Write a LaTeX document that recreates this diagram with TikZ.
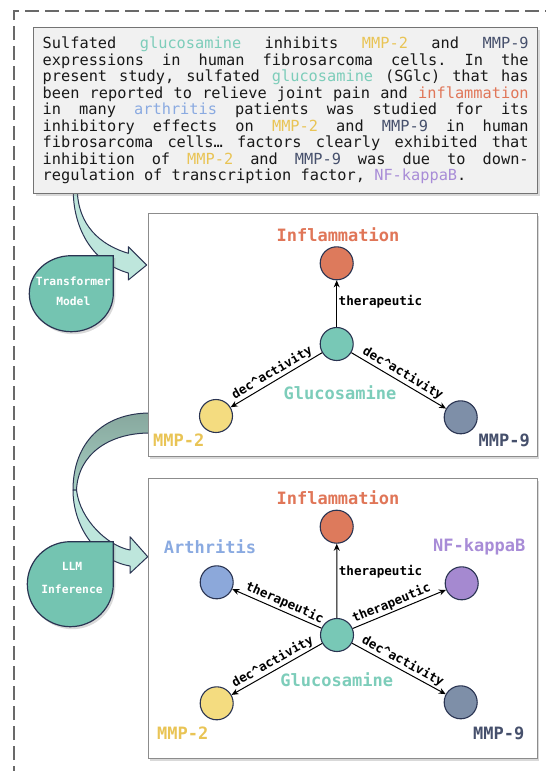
\documentclass[tikz,border=0pt]{standalone}
\usepackage{fontspec}
\setmonofont{DejaVu Sans Mono}
\usetikzlibrary{arrows.meta,shadows}
\definecolor{navy}{RGB}{42,52,82}
\definecolor{cFrame}{RGB}{105,105,105}
\definecolor{cBox}{RGB}{241,241,241}
\definecolor{cBlob}{RGB}{116,196,177}
\definecolor{cBand}{RGB}{190,230,220}
\definecolor{cBandDk}{RGB}{135,168,158}
\definecolor{cBandMd}{RGB}{165,205,193}
\definecolor{cGlu}{RGB}{120,200,182}
\definecolor{cGluTxt}{RGB}{125,205,186}
\definecolor{cInf}{RGB}{221,122,92}
\definecolor{cInfTxt}{RGB}{224,118,88}
\definecolor{cMtwo}{RGB}{244,220,128}
\definecolor{cMtwoTxt}{RGB}{233,196,85}
\definecolor{cMnine}{RGB}{126,143,168}
\definecolor{cMnineTxt}{RGB}{70,80,108}
\definecolor{cArt}{RGB}{140,168,218}
\definecolor{cArtTxt}{RGB}{138,170,225}
\definecolor{cNfk}{RGB}{165,137,208}
\definecolor{cNfkTxt}{RGB}{168,140,215}
\tikzset{
  frame/.style={draw=cFrame,line width=2.5pt,dash pattern=on 14pt off 6pt},
  shade/.style={drop shadow={shadow xshift=2pt,shadow yshift=-2.5pt,opacity=0.3}},
  absbox/.style={draw=black!55,fill=cBox,line width=0.8pt,shade,minimum width=504pt,minimum height=166pt,
    text width=486pt,inner xsep=9pt,align=justify,text=black!90,font=\ttfamily\fontsize{15.3}{16.45}\selectfont},
  panel/.style={draw=black!45,fill=white,line width=0.8pt,shade,minimum width=389pt},
  ent/.style={circle,draw=navy,line width=1.1pt,minimum size=33pt,inner sep=0pt},
  lbl/.style={font=\ttfamily\bfseries\fontsize{17}{17}\selectfont,inner sep=0pt},
  rel/.style={-{Stealth[length=7pt,width=6pt]},line width=1pt},
  rlbl/.style={font=\ttfamily\bfseries\fontsize{12.6}{13}\selectfont,inner sep=1.5pt},
  blob/.style={fill=cBlob,draw=navy,line width=1.2pt,shade},
  blobtxt/.style={text=white,align=center,inner sep=0pt},
  band/.style={draw=navy,line width=1pt,line join=round}
}
\begin{document}
\begin{tikzpicture}[x=1pt,y=-1pt]
\useasboundingbox (0,0) rectangle (546,771);
\clip (0,0) rectangle (546,771);
\draw[frame] (14,800) -- (14,11) -- (570,11);
% arrows on the left
\draw[band,fill=cBand] (73.3,190) .. controls (73,225) and (90,262) .. (128.3,273) -- (128.3,280) -- (146.7,265) -- (128.3,246.7) -- (128.3,253.3) .. controls (100,245) and (78,225) .. (77.3,190) -- cycle;
\draw[band,top color=cBandDk,bottom color=cBandMd] (150,413) .. controls (103,413) and (73,443) .. (73,490) -- (76.5,490) .. controls (78,455) and (108,433) .. (150,433) -- cycle;
\draw[band,fill=cBand] (73,490) .. controls (73,525) and (95,560) .. (130,566) -- (130,573.3) -- (147.7,556.7) -- (130,536.7) -- (130,550) .. controls (108,546) and (80,520) .. (76.5,490) -- cycle;
\foreach \nm/\cx/\cy/\rx/\ry/\tx/\ty/\sk/\txt in {tfm/71.3/293.7/42/38/73.3/291.7/20/{Transformer\\Model},llm/70.3/584.2/43/42.5/72/578.3/23.3/{LLM\\Inference}}{
  \draw[blob] (\cx+\rx,\cy-\ry) -- (\cx,\cy-\ry) arc[start angle=270,end angle=0,x radius=\rx,y radius=\ry] -- cycle;
  \node[blobtxt,font=\ttfamily\bfseries\fontsize{11.3}{\sk}\selectfont] (\nm) at (\tx,\ty) {\txt};
}
% abstract
\node[absbox] (abs) at (285.7,110.5) {\frenchspacing\tolerance=10000\hbadness=10000\fontdimen3\font=0.9em\fontdimen4\font=0.05em
Sulfated \textcolor{cGluTxt}{glucosamine} inhibits \textcolor{cMtwoTxt}{MMP-2} and \textcolor{cMnineTxt}{MMP-9}\linebreak
expressions in human fibrosarcoma cells. In the\linebreak
present study, sulfated \textcolor{cGluTxt}{glucosamine} (SGlc) that has\linebreak
been reported to relieve joint pain and \textcolor{cInfTxt}{inflammation}\linebreak
in many \textcolor{cArtTxt}{arthritis} patients was studied for its\linebreak
inhibitory effects on \textcolor{cMtwoTxt}{MMP-2} and \textcolor{cMnineTxt}{MMP-9} in human\linebreak
fibrosarcoma cells… factors clearly exhibited that\linebreak
inhibition of \textcolor{cMtwoTxt}{MMP-2} and \textcolor{cMnineTxt}{MMP-9} was due to down-\linebreak
regulation of transcription factor, \textcolor{cNfkTxt}{NF-kappaB}.};
% graph panels
\node[panel,minimum height=242.5pt] (panT) at (342.5,334.75) {};
\node[panel,minimum height=280pt] (panL) at (342.5,618) {};
\foreach \nm/\x/\y/\c in {inflT/336.7/263.3/cInf,gluT/336.7/344/cGlu,mmp2T/216/416/cMtwo,mmp9T/460.7/417.3/cMnine,
  inflL/336.7/526.7/cInf,gluL/337/635/cGlu,arthL/216.7/582.3/cArt,nfkL/461.7/583.3/cNfk,mmp2L/216.7/703.3/cMtwo,mmp9L/460.7/702.3/cMnine}
  {\node[ent,fill=\c] (\nm) at (\x,\y) {};}
\foreach \nm/\x/\y/\c/\t in {tInflT/338/235/cInfTxt/Inflammation,tGluT/340/392.7/cGluTxt/Glucosamine,tMtwoT/178.7/440/cMtwoTxt/MMP-2,tMnineT/504.3/440/cMnineTxt/MMP-9,
  tInflL/338/497.7/cInfTxt/Inflammation,tGluL/336.7/679.3/cGluTxt/Glucosamine,tArtL/210/546.7/cArtTxt/Arthritis,tNfkL/479.3/547.3/cNfkTxt/NF-kappaB,tMtwoL/182.8/733.3/cMtwoTxt/MMP-2,tMnineL/498.7/733.3/cMnineTxt/MMP-9}
  {\node[lbl,text=\c] (\nm) at (\x,\y) {\t};}
% relations
\draw[rel] (gluT) -- (inflT) node[rlbl,pos=0.55,right] (eT1) {therapeutic};
\foreach \t in {mmp2T,mmp9T}{\draw[rel] (gluT) -- (\t) node[rlbl,pos=0.5,above,sloped] (e-\t) {dec\textasciicircum activity};}
\draw[rel] (gluL) -- (inflL) node[rlbl,pos=0.62,right] (eL1) {therapeutic};
\foreach \t in {arthL,nfkL}{\draw[rel] (gluL) -- (\t) node[rlbl,pos=0.45,above,sloped] (e-\t) {therapeutic};}
\foreach \t in {mmp2L,mmp9L}{\draw[rel] (gluL) -- (\t) node[rlbl,pos=0.5,above,sloped] (e-\t) {dec\textasciicircum activity};}
\end{tikzpicture}
\end{document}
